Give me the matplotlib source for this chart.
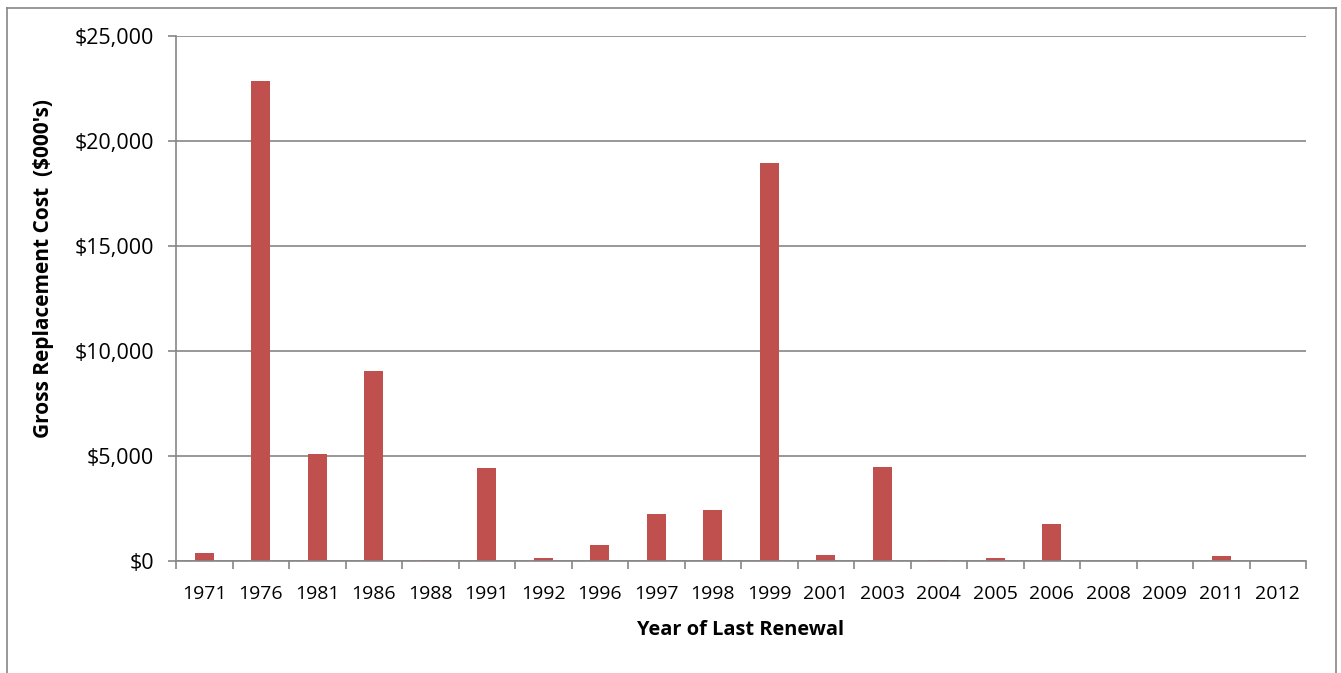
import matplotlib
matplotlib.use("Agg")
import matplotlib.pyplot as plt
from matplotlib.lines import Line2D
from matplotlib.ticker import FuncFormatter, MultipleLocator
import numpy as np

years = ["1971", "1976", "1981", "1986", "1988", "1991", "1992", "1996", "1997", "1998",
         "1999", "2001", "2003", "2004", "2005", "2006", "2008", "2009", "2011", "2012"]
costs = [380, 22840, 5110, 9070, 50, 4420, 120, 760, 2260, 2450,
         18970, 290, 4500, 70, 130, 1740, 0, 0, 250, 0]

plt.rcParams['font.family'] = ['Open Sans', 'DejaVu Sans']

W, H = 1341, 673
fig = plt.figure(figsize=(W / 100, H / 100), dpi=100)
ax = fig.add_axes([176 / W, 1 - 561 / H, (1306 - 176) / W, (561 - 36) / H])

grey = "#868686"
x = np.arange(len(years))
ax.bar(x, costs, width=0.345, color="#C0504D", zorder=3)

ax.set_xlim(-0.5, len(years) - 0.5)
ax.set_ylim(0, 25000)
ax.yaxis.set_major_locator(MultipleLocator(5000))
ax.yaxis.set_major_formatter(FuncFormatter(lambda v, p: "${:,.0f}".format(v)))
ax.grid(axis="y", color=grey, linewidth=1.2, zorder=0)

ax.set_xticks(x)
ax.set_xticklabels(years)
ax.set_xticks(np.arange(-0.5, len(years)), minor=True)
ax.tick_params(axis="x", which="major", length=0, labelsize=14, pad=17)
ax.tick_params(axis="x", which="minor", length=6, color=grey, width=1.2)
ax.tick_params(axis="y", length=6, color=grey, width=1.2, labelsize=15.5, pad=10)

for s in ["top", "right"]:
    ax.spines[s].set_visible(False)
for s in ["left", "bottom"]:
    ax.spines[s].set_color(grey)
    ax.spines[s].set_linewidth(1.2)
    ax.spines[s].set_zorder(4)

ax.set_xlabel("Year of Last Renewal", fontsize=14.4, fontweight="bold")
ax.xaxis.set_label_coords(0.5, -(630 - 561) / 525)
ax.xaxis.label.set_va("center")
ax.set_ylabel("Gross Replacement Cost  ($000's)", fontsize=15, fontweight="bold")
ax.yaxis.set_label_coords((44 - 176) / 1130, (561 - 268) / 525)
ax.yaxis.label.set_va("center")

# outer chart border
for (x0, y0, x1, y1) in [(7, 8, 1336, 8), (7, 8, 7, 673), (1336, 8, 1336, 673)]:
    fig.add_artist(Line2D([x0 / W, x1 / W], [1 - y0 / H, 1 - y1 / H],
                          color=grey, linewidth=1.2, transform=fig.transFigure))

fig.savefig("out.png", dpi=100)
